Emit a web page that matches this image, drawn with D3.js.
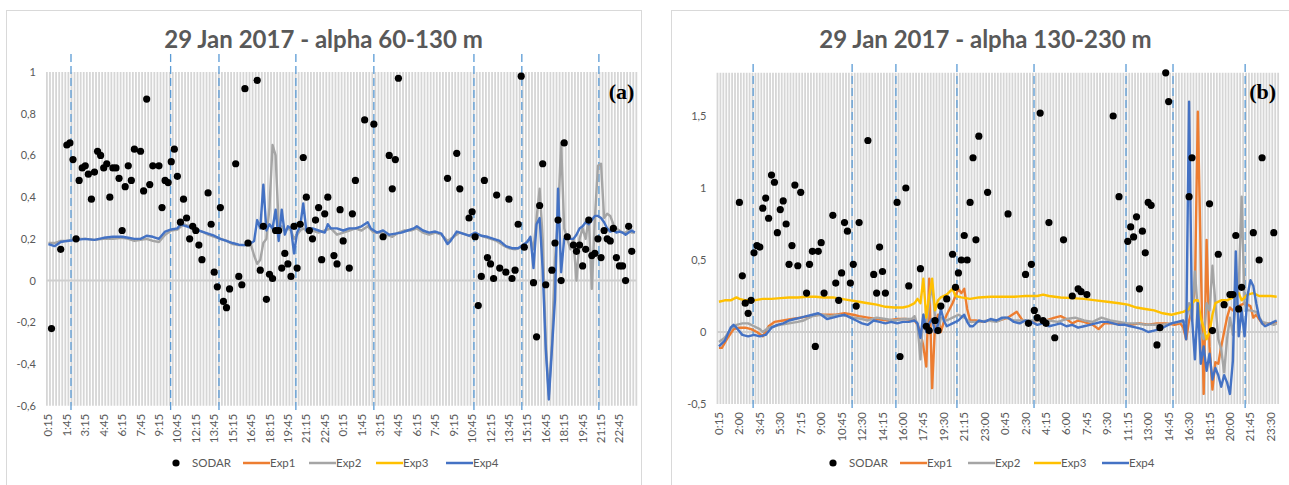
<!DOCTYPE html>
<html lang="en">
<head>
<meta charset="utf-8">
<title>29 Jan 2017 - alpha</title>
<script src="https://d3js.org/d3.v7.min.js"></script>
<style>
  body { margin: 0; background: #fff; }
</style>
</head>
<body>
<script>
// canvas
var w = 1289, h = 485;
var nSlots = 192;   // 15-minute slots over two days

// x tick labels
var ticksA = ["0:15","1:45","3:15","4:45","6:15","7:45","9:15","10:45","12:15","13:45","15:15","16:45","18:15","19:45","21:15","22:45",
              "0:15","1:45","3:15","4:45","6:15","7:45","9:15","10:45","12:15","13:45","15:15","16:45","18:15","19:45","21:15","22:45"];
var ticksB = ["0:15","2:00","3:45","5:30","7:15","9:00","10:45","12:30","14:15","16:00","17:45","19:30","21:15","23:00",
              "0:45","2:30","4:15","6:00","7:45","9:30","11:15","13:00","14:45","16:30","18:15","20:00","21:45","23:30"];

// y tick labels
var yTicksA = [-0.6, -0.4, -0.2, 0, 0.2, 0.4, 0.6, 0.8, 1];
var yTicksB = [-0.5, 0, 0.5, 1, 1.5];

// marker lines (slot position)
var marksA = [7.85, 40.3, 56.05, 81.1, 106.5, 139.1, 154.7, 179.8];
var marksB = [12.2, 46.1, 61.1, 82, 108.4, 139.9, 156, 180.7];

// SODAR values: [slot, alpha]
var sodarA = [[1,-.23],[4,.15],[6,.65],[7,.66],[8,.58],[9,.2],[10,.48],[11,.54],[12,.55],[13,.51],[14,.39],[15,.52],[16,.62],[17,.6],[18,.54],[19,.56],[20,.4],[21,.54],[22,.54],[23,.49],[24,.24],[25,.45],[26,.55],[27,.48],[28,.63],[30,.62],[31,.43],[32,.87],[33,.46],[34,.55],[36,.55],[37,.35],[38,.48],[39,.47],[40,.57],[41,.63],[42,.5],[43,.28],[44,.39],[45,.3],[46,.2],[47,.26],[48,.24],[49,.17],[50,.1],[52,.42],[53,.27],[54,.04],[55,-.03],[56,.35],[57,-.1],[58,-.13],[59,-.04],[61,.56],[62,.02],[63,-.02],[64,.92],[65,.18],[68,.96],[69,.05],[70,.26],[71,-.09],[72,.03],[73,.01],[74,.24],[75,.24],[76,.06],[77,.13],[78,.08],[79,.02],[80,.26],[81,.06],[82,.27],[83,.59],[84,.4],[85,.24],[86,.2],[87,.29],[88,.35],[89,.1],[90,.32],[91,.4],[93,.12],[94,.08],[95,.34],[96,.19],[98,.06],[99,.32],[100,.48],[103,.77],[106,.75],[109,.21],[111,.6],[112,.44],[113,.58],[114,.97],[130,.49],[133,.61],[134,.44],[137,.3],[138,.33],[139,.21],[140,-.12],[141,.02],[142,.48],[143,.11],[144,.08],[145,.01],[146,.41],[147,.06],[149,.04],[150,.39],[151,.01],[152,.05],[153,.27],[154,.98],[155,.16],[158,-.01],[159,-.27],[160,.36],[161,.56],[162,-.02],[164,.05],[165,.18],[166,.29],[167,0],[168,.66],[169,.21],[171,.17],[172,.14],[173,.17],[174,.07],[175,.15],[176,.29],[177,.12],[178,.13],[179,.2],[180,.11],[181,.24],[182,.2],[183,.19],[184,.25],[185,.11],[186,.07],[187,.07],[188,0],[189,.26],[190,.14]];

var sodarB = [[7,.9],[8,.39],[9,.2],[10,.13],[11,.22],[12,.55],[13,.6],[14,.59],[15,.86],[16,.93],[17,.79],[18,1.09],[19,1.04],[20,.69],[21,.85],[22,.91],[23,.75],[24,.47],[25,.6],[26,1.02],[27,.46],[28,.97],[30,.27],[31,.47],[32,.56],[33,-.1],[34,.56],[35,.62],[36,.27],[39,.81],[40,.34],[41,.22],[42,.41],[43,.76],[44,.7],[45,.34],[46,.47],[47,.18],[48,.76],[51,1.33],[53,.4],[54,.27],[55,.59],[56,.42],[57,.27],[61,.9],[62,-.17],[64,1],[65,.32],[69,.44],[71,.04],[72,.01],[74,.08],[75,.01],[76,.18],[78,.23],[80,.54],[81,.31],[82,.41],[83,.5],[84,.67],[85,.5],[86,.9],[87,1.21],[88,.64],[89,1.36],[92,.97],[99,.82],[105,.4],[106,.06],[107,.47],[108,.15],[109,.1],[110,1.52],[111,.08],[112,.06],[113,.76],[115,-.04],[118,.64],[121,.25],[123,.3],[124,.28],[126,.26],[135,1.5],[137,.94],[140,.63],[141,.73],[142,.66],[143,.8],[144,.3],[145,.7],[146,.55],[147,.9],[148,.88],[150,-.09],[151,.03],[153,1.8],[154,1.6],[161,.94],[162,1.21],[168,.89],[169,.01],[171,.54],[173,.19],[175,.26],[176,.26],[177,.67],[178,.16],[179,.31],[183,.69],[185,.5],[186,1.21],[190,.69]];

// model series, panel (a): [slot, alpha]
var exp2A = [[0,.18],[2,.18],[4,.19],[6,.19],[9,.2],[12,.2],[15,.195],[18,.2],[21,.2],[24,.205],[26,.2],[28,.19],[30,.195],[32,.2],[34,.19],[36,.185],[38,.22],[40,.24],[42,.245],[44,.27],[46,.26],[48,.245],[50,.235],[52,.22],[54,.21],[56,.2],[58,.19],[60,.175],[62,.17],[64,.17],[66,.17],[67,.12],[68,.08],[69,.1],[70,.18],[71,.2],[72,.35],[73,.65],[74,.6],[75,.26],[76,.26],[77,.24],[78,.25],[79,.24],[80,.2],[81,.22],[82,.24],[83,.25],[84,.24],[86,.24],[88,.23],[90,.24],[92,.25],[94,.22],[96,.23],[98,.24],[100,.25],[102,.24],[104,.26],[106,.23],[108,.23],[110,.22],[112,.21],[114,.23],[116,.24],[118,.24],[120,.25],[122,.23],[124,.22],[126,.23],[128,.22],[130,.19],[132,.21],[134,.23],[136,.22],[138,.21],[140,.22],[142,.21],[144,.2],[146,.19],[148,.17],[150,.155],[152,.15],[154,.16],[155,.17],[156,.19],[157,.2],[158,.15],[159,.3],[160,.44],[161,.2],[162,-.3],[163,-.55],[164,-.3],[165,.1],[166,.3],[167,.66],[168,.25],[169,.2],[170,.15],[171,.2],[172,0],[173,.2],[174,.25],[175,.2],[176,.3],[177,-.04],[178,.3],[179,.55],[180,.56],[181,.3],[182,.32],[183,.31],[184,.27],[185,.25],[186,.24],[187,.23],[188,.23],[189,.24],[190,.23],[191,.23]];

var exp4A = [[0,.175],[2,.165],[4,.185],[6,.19],[9,.195],[12,.2],[15,.195],[18,.205],[21,.21],[24,.21],[26,.205],[28,.2],[30,.2],[32,.215],[34,.21],[36,.2],[38,.235],[40,.245],[42,.25],[43,.27],[44,.265],[46,.255],[48,.245],[50,.235],[52,.225],[54,.215],[56,.2],[58,.19],[60,.18],[62,.172],[64,.17],[66,.18],[67,.19],[68,.29],[69,.25],[70,.46],[71,.24],[72,.27],[73,.25],[74,.34],[75,.19],[76,.34],[77,.22],[78,.26],[79,.25],[80,.13],[81,.23],[82,.26],[83,.37],[84,.24],[85,.25],[86,.25],[88,.24],[90,.23],[91,.27],[92,.25],[94,.25],[96,.24],[98,.25],[100,.25],[102,.26],[104,.28],[105,.25],[107,.23],[109,.24],[111,.22],[113,.225],[115,.23],[117,.24],[119,.25],[120,.26],[122,.24],[124,.23],[126,.235],[128,.225],[129,.2],[130,.175],[131,.19],[133,.235],[135,.225],[137,.215],[139,.23],[141,.215],[143,.21],[145,.2],[147,.19],[149,.165],[151,.155],[153,.155],[155,.175],[156,.185],[157,.21],[158,.06],[159,.27],[160,.3],[161,.05],[162,-.33],[163,-.57],[164,-.33],[165,-.09],[166,.44],[167,.04],[168,.2],[169,.22],[170,.2],[171,.2],[172,.22],[173,.25],[174,.26],[175,.28],[176,.27],[177,.29],[178,.31],[179,.31],[180,.3],[181,.28],[182,.25],[183,.235],[184,.24],[185,.23],[186,.235],[187,.23],[188,.22],[189,.23],[190,.24],[191,.23]];

// model series, panel (b)
var exp1B = [[0,-.11],[1,-.11],[3,-.04],[5,.02],[7,.03],[9,.03],[11,.02],[13,0],[15,-.03],[17,.04],[19,.07],[22,.08],[25,.09],[28,.1],[31,.11],[34,.12],[37,.12],[40,.12],[43,.13],[46,.12],[48,.11],[51,.1],[54,.09],[58,.08],[61,.09],[64,.09],[67,.08],[68,.05],[69,0],[70,-.1],[71,-.24],[72,.37],[73,-.39],[74,.05],[75,.12],[76,0],[77,.07],[78,.12],[80,.2],[82,.3],[83,.27],[84,.3],[85,.16],[86,.08],[88,.08],[90,.07],[93,.08],[96,.08],[99,.1],[102,.14],[104,.08],[107,.07],[110,.08],[112,.08],[115,.1],[117,.11],[119,.09],[121,.06],[123,.08],[125,.07],[128,.05],[130,.02],[132,.06],[135,.06],[138,.05],[141,.05],[144,.06],[147,.05],[150,.06],[153,.06],[156,.05],[158,.06],[159,.03],[160,-.05],[161,.08],[162,.16],[163,.3],[164,1.53],[165,.5],[166,-.43],[167,.64],[168,-.1],[169,-.4],[170,-.21],[171,-.22],[172,-.1],[173,0],[174,.1],[175,.17],[176,.15],[178,.18],[180,.2],[182,.18],[183,.1],[184,.12],[186,.06],[188,.06],[190,.06],[191,.07]];

var exp2B = [[0,-.07],[2,-.04],[4,.02],[6,.05],[8,.06],[10,.06],[12,.04],[14,.02],[15,0],[17,.03],[19,.04],[21,.05],[24,.06],[27,.07],[29,.08],[32,.11],[35,.12],[38,.11],[41,.12],[44,.11],[46,.1],[49,.09],[51,.08],[54,.1],[57,.09],[60,.08],[63,.09],[66,.09],[67,.11],[68,.05],[69,-.19],[70,.12],[71,.05],[72,.2],[73,.33],[74,.1],[75,0],[76,.1],[78,.08],[80,.1],[82,.12],[84,.1],[86,.07],[89,.07],[92,.08],[95,.07],[98,.1],[101,.08],[104,.08],[107,.08],[110,.08],[113,.08],[116,.07],[119,.09],[122,.1],[125,.08],[128,.07],[131,.1],[134,.08],[137,.07],[140,.06],[143,.06],[146,.05],[149,.05],[152,.05],[155,.06],[158,.07],[160,.07],[161,.2],[162,.08],[163,.42],[164,.15],[165,0],[166,-.05],[167,.2],[168,.15],[169,.46],[170,.2],[171,-.05],[172,-.12],[173,-.28],[174,-.05],[175,.1],[176,-.02],[177,.2],[178,.3],[179,.94],[180,.2],[181,.15],[182,.15],[184,.14],[186,.07],[188,.06],[190,.05],[191,.06]];

var exp3B = [[0,.21],[2,.22],[4,.22],[6,.24],[7,.23],[9,.22],[12,.22],[15,.23],[18,.23],[21,.235],[24,.24],[27,.24],[30,.245],[33,.245],[36,.24],[39,.24],[42,.23],[45,.22],[48,.21],[51,.2],[54,.19],[57,.175],[60,.17],[63,.17],[65,.18],[67,.2],[68,.23],[69,.2],[70,.37],[71,.1],[72,.25],[73,.37],[74,.15],[75,.22],[76,.24],[78,.26],[80,.3],[81,.25],[83,.24],[86,.23],[89,.24],[93,.245],[97,.245],[101,.245],[105,.25],[109,.25],[111,.26],[113,.25],[117,.24],[121,.235],[125,.23],[129,.22],[133,.21],[137,.2],[140,.19],[143,.17],[146,.16],[149,.15],[152,.13],[155,.12],[157,.13],[159,.14],[161,.16],[162,.2],[163,.22],[164,.22],[165,.1],[166,.03],[167,-.05],[168,0],[169,.12],[170,.2],[172,.22],[174,.22],[176,.24],[178,.27],[179,.22],[181,.26],[183,.27],[185,.25],[187,.25],[189,.25],[191,.245]];

var exp4B = [[0,-.1],[2,-.06],[4,.03],[5,.05],[6,.03],[8,-.02],[10,-.03],[12,-.02],[14,-.03],[16,-.02],[18,.03],[20,.05],[22,.06],[24,.08],[26,.09],[28,.1],[30,.11],[32,.12],[34,.13],[35,.12],[37,.09],[39,.1],[41,.11],[43,.12],[45,.1],[47,.08],[49,.06],[51,.05],[53,.08],[55,.07],[57,.06],[59,.07],[61,.06],[63,.07],[65,.07],[67,.08],[68,.06],[69,-.04],[70,.12],[71,0],[72,.06],[73,.09],[74,0],[75,.05],[76,.16],[77,.08],[78,.04],[80,.06],[82,.08],[84,.12],[85,.07],[86,.04],[87,.04],[89,.08],[91,.07],[93,.09],[95,.08],[97,.1],[99,.1],[101,.07],[103,.06],[105,.08],[107,.07],[109,.05],[111,.06],[113,.04],[115,.05],[117,.06],[119,.04],[121,.05],[123,.03],[125,.04],[127,.05],[129,.06],[131,.07],[133,.07],[135,.06],[137,.05],[139,.05],[141,.04],[143,.03],[145,.02],[147,0],[149,.01],[151,.02],[153,.04],[155,.06],[157,.07],[159,.08],[160,-.05],[161,1.6],[162,.1],[163,-.19],[164,.2],[165,-.22],[166,-.1],[167,-.27],[168,-.15],[169,-.33],[170,-.25],[171,-.3],[172,-.38],[173,-.3],[174,-.35],[175,-.43],[176,-.2],[177,.56],[178,-.03],[179,.15],[180,-.03],[181,.25],[182,.36],[183,.32],[184,.2],[185,.1],[186,.06],[187,.04],[188,.05],[189,.06],[190,.07],[191,.08]];

var seriesNames = ["Exp1", "Exp2", "Exp3", "Exp4"];
var seriesColors = ["#ed7d31", "#a5a5a5", "#ffc000", "#4472c4"];

var txtColor = "#595959";
var fontSans = "Lato, 'Open Sans', sans-serif";

var svg = d3.select("body").append("svg")
    .attr("width", w)
    .attr("height", h);

function fmt(v) { return String(v).replace(".", ","); }

function drawPanel(p) {
    var g = svg.append("g");

    // frame
    g.append("rect")
        .attr("x", p.frame[0] + 0.5).attr("y", 10.5)
        .attr("width", p.frame[1] - p.frame[0]).attr("height", 490)
        .attr("fill", "#fff").attr("stroke", "#d9d9d9");

    var x = d3.scaleBand().domain(d3.range(nSlots)).range([p.left, p.right]).padding(0);
    var xs = function(i) { return x(0) + (i + 0.5) * x.step(); };
    var y = d3.scaleLinear().domain(p.domain).range([p.bottom, p.top]);

    // title
    g.append("text")
        .attr("x", (p.frame[0] + p.frame[1]) / 2).attr("y", 48)
        .attr("text-anchor", "middle")
        .style("font-family", fontSans).style("font-size", "24px").style("font-weight", "bold")
        .style("fill", txtColor)
        .text(p.title);

    // vertical category grid
    g.append("g").selectAll("line")
        .data(d3.range(nSlots + 1))
        .enter().append("line")
        .attr("x1", function(k) { return p.left + k * x.step(); })
        .attr("x2", function(k) { return p.left + k * x.step(); })
        .attr("y1", p.top).attr("y2", p.bottom)
        .attr("stroke", "#d6d6d6").attr("stroke-width", 1.8);

    // zero line
    g.append("line")
        .attr("x1", p.left).attr("x2", p.right)
        .attr("y1", y(0)).attr("y2", y(0))
        .attr("stroke", "#cfcfcf").attr("stroke-width", 2);

    // y axis
    var ya = d3.axisLeft(y).tickValues(p.yTicks).tickFormat(fmt).tickSize(0).tickPadding(11);
    var yg = g.append("g").attr("transform", "translate(" + p.left + ",0)").call(ya);
    yg.select(".domain").remove();
    yg.selectAll("text").style("font-family", fontSans).style("font-size", "11px").style("fill", txtColor);

    // x axis
    var xa = d3.axisBottom(x)
        .tickValues(p.ticks.map(function(t, k) { return k * p.every; }))
        .tickFormat(function(i) { return p.ticks[i / p.every]; })
        .tickSize(0);
    var xg = g.append("g").attr("transform", "translate(0," + p.bottom + ")").call(xa);
    xg.select(".domain").remove();
    xg.selectAll("text")
        .attr("transform", "rotate(-90)")
        .attr("x", -8).attr("y", 0).attr("dy", "0.35em")
        .style("text-anchor", "end")
        .style("font-family", fontSans).style("font-size", "11.5px").style("fill", txtColor);

    // dashed markers
    g.append("g").selectAll("line")
        .data(p.marks)
        .enter().append("line")
        .attr("x1", function(m) { return x(0) + m * x.step(); })
        .attr("x2", function(m) { return x(0) + m * x.step(); })
        .attr("y1", p.markTop).attr("y2", p.bottom + 7)
        .attr("stroke", "#5b9bd5").attr("stroke-width", 1.3)
        .attr("stroke-dasharray", "8,4");

    // model lines
    var line = d3.line()
        .x(function(d) { return xs(d[0]); })
        .y(function(d) { return y(d[1]); });
    p.series.forEach(function(s, k) {
        if (!s) return;
        g.append("path")
            .datum(s)
            .attr("d", line)
            .attr("fill", "none")
            .attr("stroke", seriesColors[k])
            .attr("stroke-width", 2.4)
            .attr("stroke-linejoin", "round");
    });

    // SODAR points
    g.append("g").selectAll("circle")
        .data(p.sodar)
        .enter().append("circle")
        .attr("cx", function(d) { return xs(d[0]); })
        .attr("cy", function(d) { return y(d[1]); })
        .attr("r", 3.6)
        .attr("fill", "#000");

    // panel letter
    g.append("text")
        .attr("x", p.right - 2).attr("y", 99)
        .attr("text-anchor", "end")
        .style("font-family", "'Liberation Serif', 'Times New Roman', serif")
        .style("font-size", "22px").style("font-weight", "bold")
        .text(p.letter);

    // legend
    var lg = g.append("g").attr("transform", "translate(" + p.legendX + ",463)");
    lg.append("circle").attr("cx", 0).attr("cy", 0).attr("r", 3.6).attr("fill", "#000");
    lg.append("text").attr("x", 16).attr("y", 0).attr("dy", "0.35em")
        .style("font-family", fontSans).style("font-size", "11.5px").style("fill", txtColor)
        .text("SODAR");
    seriesNames.forEach(function(name, k) {
        var x0 = p.legendStep[k];
        lg.append("line")
            .attr("x1", x0).attr("x2", x0 + 27)
            .attr("y1", 0).attr("y2", 0)
            .attr("stroke", seriesColors[k]).attr("stroke-width", 2.5);
        lg.append("text").attr("x", x0 + 27).attr("y", 0).attr("dy", "0.35em")
            .style("font-family", fontSans).style("font-size", "11.5px").style("fill", txtColor)
            .text(name);
    });
}

drawPanel({
    frame: [6, 641],
    title: "29 Jan 2017 - alpha 60-130 m",
    left: 46.9, right: 46.9 + 3.07 * nSlots,
    top: 72, bottom: 405.7,
    domain: [-0.6, 1],
    yTicks: yTicksA,
    ticks: ticksA, every: 6,
    marks: marksA, markTop: 54,
    series: [null, exp2A, null, exp4A],
    sodar: sodarA,
    letter: "(a)",
    legendX: 176,
    legendStep: [67, 133, 200, 270]
});

drawPanel({
    frame: [671, 1300],
    title: "29 Jan 2017 - alpha 130-230 m",
    left: 717.5, right: 717.5 + 2.92 * nSlots,
    top: 72.8, bottom: 404,
    domain: [-0.5, 1.8],
    yTicks: yTicksB,
    ticks: ticksB, every: 7,
    marks: marksB, markTop: 64,
    series: [exp1B, exp2B, exp3B, exp4B],
    sodar: sodarB,
    letter: "(b)",
    legendX: 833,
    legendStep: [67, 135, 201, 269]
});
</script>
</body>
</html>
